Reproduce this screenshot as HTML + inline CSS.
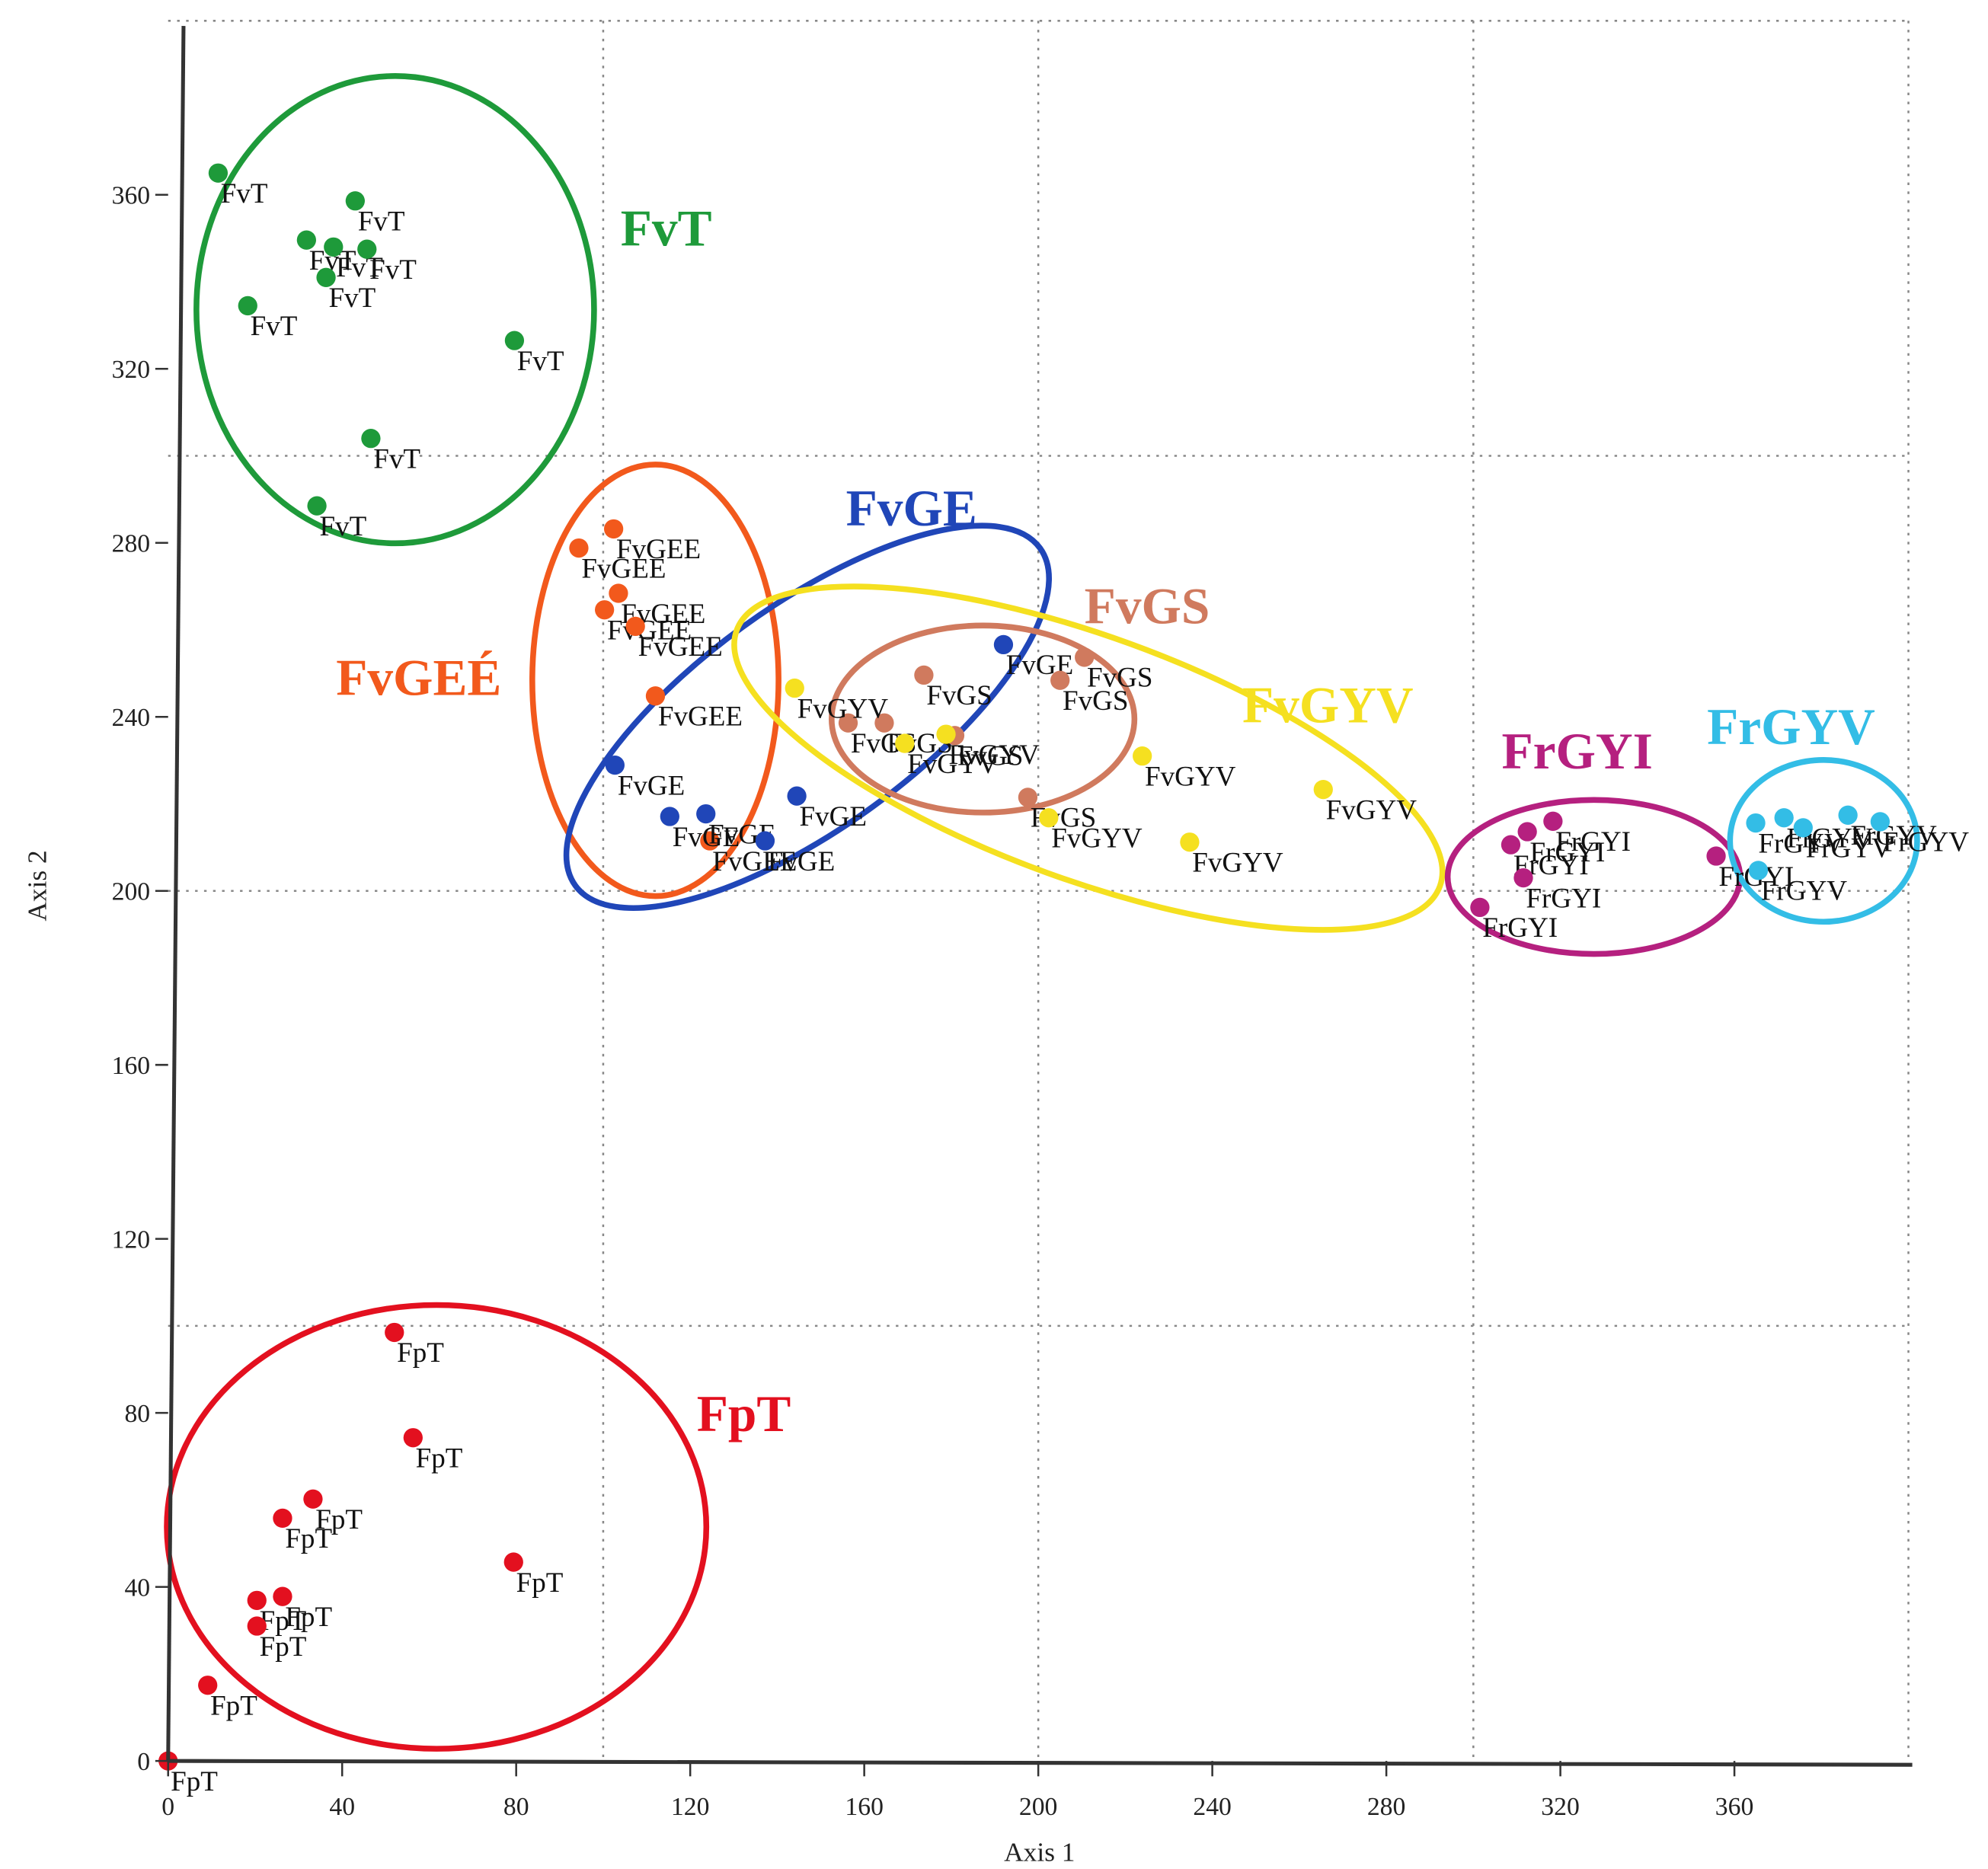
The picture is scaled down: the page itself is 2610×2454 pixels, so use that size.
<!DOCTYPE html>
<html><head><meta charset="utf-8"><style>
html,body{margin:0;padding:0;background:#fff}
svg{display:block}
text{font-family:"Liberation Serif",serif}
</style></head><body>
<svg id="chart" width="2610" height="2454" viewBox="0 0 1549 1456" xmlns="http://www.w3.org/2000/svg">
<g id="grid"></g>
<g id="ellipses"></g>
<g id="points"></g>
<g id="axes"></g>
<g id="groupLabels"></g>
</svg>
<script>
const xTicks=[0,40,80,120,160,200,240,280,320,360];
const yTicks=[0,40,80,120,160,200,240,280,320,360];
const xTickLabels=["0","40","80","120","160","200","240","280","320","360"];
const yTickLabels=["0","40","80","120","160","200","240","280","320","360"];
const gridVals=[100,200,300,400];
const groups=["FvT","FpT","FvGEE","FvGE","FvGS","FvGYV","FrGYI","FrGYV"];
const groupTitles=["FvT","FpT","FvGEÉ","FvGE","FvGS","FvGYV","FrGYI","FrGYV"];
const groupColors=["#1e9a3a","#e3101f","#f2591c","#2046b8","#d07a5e","#f5e020","#b5207f","#33bde6"];
const fvtX=[11.5,43,31.8,38,45.7,36.3,18.3,79.6,46.6,34.2];
const fvtY=[365,358.6,349.6,348,347.5,341,334.5,326.5,304,288.5];
const fptX=[52,56.3,33.3,26.3,79.4,20.4,26.3,20.4,9.1,0];
const fptY=[98.5,74.3,60.2,55.8,45.7,36.9,37.8,31,17.4,0];
const fvgeeX=[102.4,94.4,103.5,100.3,107.4,112,124.5];
const fvgeeY=[283.2,278.8,268.4,264.6,260.8,244.8,211.5];
const fvgeX=[192,102.7,115.3,123.6,137.2,144.5];
const fvgeY=[256.6,228.9,217.1,217.7,211.5,221.8];
const fvgsX=[173.7,156.3,164.6,180.8,205,210.6,197.6];
const fvgsY=[249.6,238.6,238.6,235.7,248.4,253.7,221.5];
const fvgyvX=[144,169.3,178.8,223.9,202.4,234.8,265.5];
const fvgyvY=[246.6,233.9,236,231,216.8,211.2,223.3];
const frgyiX=[318.3,312.4,308.6,311.5,301.5,355.8];
const frgyiY=[216,213.6,210.6,203,196.2,208];
const frgyvX=[364.9,371.4,375.8,386.1,393.5,365.5];
const frgyvY=[215.6,216.8,214.5,217.4,215.9,204.7];
const seriesX=[fvtX,fptX,fvgeeX,fvgeX,fvgsX,fvgyvX,frgyiX,frgyvX];
const seriesY=[fvtY,fptY,fvgeeY,fvgeY,fvgsY,fvgyvY,frgyiY,frgyvY];
const ellCx=[52.2,61.7,112,147,187.3,211.5,327.7,380.5];
const ellCy=[333.6,53.8,248.4,240,239.5,230.5,203.2,211.5];
const ellRx=[45.7,62,28.3,66,34.8,86,33.6,21.5];
const ellRy=[53.7,51,49.6,25.5,21.5,28,17.7,18.6];
const ellRot=[0,0,0,-36,0,20,0,0];
const titleX=[104,121.5,38.6,155.8,210.6,246.9,306.5,353.7];
const titleY=[348.3,75.8,245,284,261.5,238.7,228.1,233.7];

const NS="http://www.w3.org/2000/svg";
function X(v){return 131+v*3.39;}
function Y(v){return 1372-v*3.39;}
function mk(tag,attrs,parent){const e=document.createElementNS(NS,tag);for(const k in attrs)e.setAttribute(k,attrs[k]);parent.appendChild(e);return e;}
const grid=document.getElementById('grid'),ell=document.getElementById('ellipses'),pts=document.getElementById('points'),axes=document.getElementById('axes'),gl=document.getElementById('groupLabels');

gridVals.forEach(v=>{
  const a=mk('line',{x1:X(v),y1:Y(400),x2:X(v),y2:Y(0),stroke:'#888','stroke-width':1.5,'stroke-dasharray':'2 5'},grid);
  
  
  const b=mk('line',{x1:X(0),y1:Y(v),x2:X(400),y2:Y(v),stroke:'#888','stroke-width':1.5,'stroke-dasharray':'2 5'},grid);
  
  
});

groups.forEach((g,i)=>{
  const cx=X(ellCx[i]),cy=Y(ellCy[i]);
  const e=mk('ellipse',{cx:cx,cy:cy,rx:ellRx[i]*3.39,ry:ellRy[i]*3.39,fill:'none',stroke:groupColors[i],'stroke-width':4.5,transform:'rotate('+ellRot[i]+' '+cx+' '+cy+')'},ell);
  
  
});

groups.forEach((g,i)=>{
  seriesX[i].forEach((xv,j)=>{
    const yv=seriesY[i][j];
    const c=mk('circle',{cx:X(xv),cy:Y(yv),r:7.5,fill:groupColors[i]},pts);
    
    
    const t=mk('text',{x:X(xv)+2,y:Y(yv)+23,'font-size':22,fill:'#111'},pts);
    t.textContent=g;
    
    
  });
});

const xa=mk('line',{x1:X(0),y1:Y(0),x2:1490,y2:Y(0)+3,stroke:'#333','stroke-width':3},axes);


const ya=mk('line',{x1:X(0),y1:Y(0),x2:143,y2:20,stroke:'#333','stroke-width':3},axes);


xTicks.forEach((v,i)=>{
  mk('line',{x1:X(v),y1:Y(0),x2:X(v),y2:Y(0)+12,stroke:'#333','stroke-width':1.5},axes);
  const t=mk('text',{x:X(v),y:Y(0)+42,'font-size':20,'text-anchor':'middle',fill:'#222'},axes);
  t.textContent=xTickLabels[i];
  
  
});
yTicks.forEach((v,i)=>{
  mk('line',{x1:X(0)-10,y1:Y(v),x2:X(0),y2:Y(v),stroke:'#333','stroke-width':1.5},axes);
  const t=mk('text',{x:X(0)-14,y:Y(v)+7,'font-size':20,'text-anchor':'end',fill:'#222'},axes);
  t.textContent=yTickLabels[i];
  
  
});
const xt=mk('text',{x:810,y:1450,'font-size':21,'text-anchor':'middle',fill:'#222'},axes);
xt.textContent='Axis 1';


const yt=mk('text',{x:36,y:690,'font-size':21,'text-anchor':'middle',fill:'#222',transform:'rotate(-90 36 690)'},axes);
yt.textContent='Axis 2';



groups.forEach((g,i)=>{
  const t=mk('text',{x:X(titleX[i]),y:Y(titleY[i]),'font-size':40,'font-weight':'bold',fill:groupColors[i]},gl);
  t.textContent=groupTitles[i];
  
  
});
</script>
</body></html>
